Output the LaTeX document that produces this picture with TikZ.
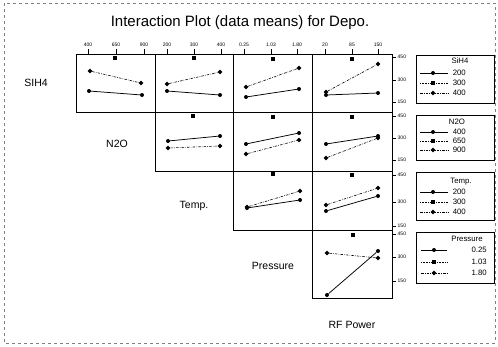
\documentclass[tikz,border=0pt]{standalone}
\usepackage{fontspec}
\setmainfont{Liberation Sans}
\usetikzlibrary{arrows.meta, positioning, shapes}

\begin{document}
\begin{tikzpicture}[
    x=1pt, y=-1pt,
    panel/.style={draw, line width=0.7pt},
    lone/.style={line width=0.75pt},
    ltwo/.style={line width=0.6pt, densely dotted},
    lthree/.style={line width=0.6pt, dash pattern=on 2.5pt off 1.2pt on 0.6pt off 1.2pt},
    ptlow/.style={circle, fill, inner sep=0pt, minimum size=4pt},
    ptmid/.style={rectangle, fill, inner sep=0pt, minimum size=3.5pt},
    pthigh/.style={diamond, fill, inner sep=0pt, minimum size=5pt},
    factor/.style={font=\fontsize{10.5}{12}\selectfont},
    ticklab/.style={font=\fontsize{5}{6}\selectfont, inner sep=0.5pt},
    legtext/.style={font=\fontsize{7.8}{9}\selectfont, inner sep=0pt},
    legbox/.style={draw, line width=0.7pt}
  ]
    \useasboundingbox (0,0) rectangle (498,346);
    \draw[gray, dashed, line width=0.4pt] (4,3) rectangle (495,343);

    \node[font=\fontsize{15}{18}\selectfont] (title) at (240,23) {Interaction Plot (data means) for Depo.};

    % panels
    \draw[panel] (76,54) rectangle (155,112);
    \draw[panel] (155,54) rectangle (233,112);
    \draw[panel] (233,54) rectangle (312,112);
    \draw[panel] (312,54) rectangle (392,112);
    \draw[panel] (155,112) rectangle (233,171);
    \draw[panel] (233,112) rectangle (312,171);
    \draw[panel] (312,112) rectangle (392,171);
    \draw[panel] (233,171) rectangle (312,230);
    \draw[panel] (312,171) rectangle (392,230);
    \draw[panel] (312,230) rectangle (392,298);

    % factor names
    \node[factor] (sih4) at (36,83) {SIH4};
    \node[factor] (n2o) at (117,144) {N2O};
    \node[factor] (temp) at (194,206) {Temp.};
    \node[factor] (press) at (273,266) {Pressure};
    \node[factor] (rfpow) at (352,325) {RF Power};

    % top axis
    \node[ticklab] (tx1) at (88,45) {400};
    \node[ticklab] (tx2) at (116,45) {650};
    \node[ticklab] (tx3) at (144,45) {900};
    \node[ticklab] (tx4) at (167,45) {200};
    \node[ticklab] (tx5) at (194,45) {300};
    \node[ticklab] (tx6) at (221,45) {400};
    \node[ticklab] (tx7) at (244,45) {0.25};
    \node[ticklab] (tx8) at (271,45) {1.03};
    \node[ticklab] (tx9) at (297,45) {1.80};
    \node[ticklab] (tx10) at (325,45) {20};
    \node[ticklab] (tx11) at (352,45) {85};
    \node[ticklab] (tx12) at (378,45) {150};
    \draw (88,49) -- (88,54);
    \draw (116,49) -- (116,54);
    \draw (144,49) -- (144,54);
    \draw (167,49) -- (167,54);
    \draw (194,49) -- (194,54);
    \draw (221,49) -- (221,54);
    \draw (244,49) -- (244,54);
    \draw (271,49) -- (271,54);
    \draw (297,49) -- (297,54);
    \draw (325,49) -- (325,54);
    \draw (352,49) -- (352,54);
    \draw (378,49) -- (378,54);

    % right axis
    \draw (392,57) -- (396,57);
    \draw (392,80) -- (396,80);
    \draw (392,102) -- (396,102);
    \draw (392,116) -- (396,116);
    \draw (392,138) -- (396,138);
    \draw (392,160) -- (396,160);
    \draw (392,175) -- (396,175);
    \draw (392,202) -- (396,202);
    \draw (392,226) -- (396,226);
    \draw (392,234) -- (396,234);
    \draw (392,257) -- (396,257);
    \draw (392,281) -- (396,281);
    \node[ticklab, anchor=west] (ry1) at (397,57) {450};
    \node[ticklab, anchor=west] (ry2) at (397,80) {300};
    \node[ticklab, anchor=west] (ry3) at (397,102) {150};
    \node[ticklab, anchor=west] (ry4) at (397,116) {450};
    \node[ticklab, anchor=west] (ry5) at (397,138) {300};
    \node[ticklab, anchor=west] (ry6) at (397,160) {150};
    \node[ticklab, anchor=west] (ry7) at (397,175) {450};
    \node[ticklab, anchor=west] (ry8) at (397,202) {300};
    \node[ticklab, anchor=west] (ry9) at (397,226) {150};
    \node[ticklab, anchor=west] (ry10) at (397,234) {450};
    \node[ticklab, anchor=west] (ry11) at (397,257) {300};
    \node[ticklab, anchor=west] (ry12) at (397,281) {150};

    % SiH4 row
    \node[ptlow] (a11) at (89,91) {};
    \node[ptlow] (b11) at (142,95) {};
    \node[pthigh] (c11) at (90,71) {};
    \node[pthigh] (d11) at (141,83) {};
    \node[ptmid] (m11) at (115,58) {};
    \draw[lone] (a11) -- (b11);
    \draw[lthree] (c11) -- (d11);
    \node[ptlow] (a12) at (167,91) {};
    \node[ptlow] (b12) at (220,95) {};
    \node[pthigh] (c12) at (167,84) {};
    \node[pthigh] (d12) at (220,72) {};
    \node[ptmid] (m12) at (194,58) {};
    \draw[lone] (a12) -- (b12);
    \draw[lthree] (c12) -- (d12);
    \node[ptlow] (a13) at (246,97) {};
    \node[ptlow] (b13) at (299,89) {};
    \node[pthigh] (c13) at (246,87) {};
    \node[pthigh] (d13) at (299,68) {};
    \node[ptmid] (m13) at (273,59) {};
    \draw[lone] (a13) -- (b13);
    \draw[lthree] (c13) -- (d13);
    \node[ptlow] (a14) at (326,95) {};
    \node[ptlow] (b14) at (378,93) {};
    \node[pthigh] (c14) at (326,92) {};
    \node[pthigh] (d14) at (378,64) {};
    \node[ptmid] (m14) at (352,59) {};
    \draw[lone] (a14) -- (b14);
    \draw[lthree] (c14) -- (d14);

    % N2O row
    \node[ptlow] (a22) at (168,141) {};
    \node[ptlow] (b22) at (220,136) {};
    \node[pthigh] (c22) at (168,148) {};
    \node[pthigh] (d22) at (220,146) {};
    \node[ptmid] (m22) at (193,116) {};
    \draw[lone] (a22) -- (b22);
    \draw[lthree] (c22) -- (d22);
    \node[ptlow] (a23) at (246,144) {};
    \node[ptlow] (b23) at (299,133) {};
    \node[pthigh] (c23) at (246,154) {};
    \node[pthigh] (d23) at (299,140) {};
    \node[ptmid] (m23) at (273,117) {};
    \draw[lone] (a23) -- (b23);
    \draw[lthree] (c23) -- (d23);
    \node[ptlow] (a24) at (326,144) {};
    \node[ptlow] (b24) at (378,136) {};
    \node[pthigh] (c24) at (326,158) {};
    \node[pthigh] (d24) at (378,138) {};
    \node[ptmid] (m24) at (352,117) {};
    \draw[lone] (a24) -- (b24);
    \draw[lthree] (c24) -- (d24);

    % Temp. row
    \node[ptlow] (a33) at (247,208) {};
    \node[ptlow] (b33) at (300,200) {};
    \node[pthigh] (c33) at (247,207) {};
    \node[pthigh] (d33) at (300,191) {};
    \node[ptmid] (m33) at (273,174) {};
    \draw[lone] (a33) -- (b33);
    \draw[lthree] (c33) -- (d33);
    \node[ptlow] (a34) at (326,211) {};
    \node[ptlow] (b34) at (378,196) {};
    \node[pthigh] (c34) at (326,205) {};
    \node[pthigh] (d34) at (378,188) {};
    \node[ptmid] (m34) at (352,175) {};
    \draw[lone] (a34) -- (b34);
    \draw[lthree] (c34) -- (d34);

    % Pressure row
    \node[ptlow] (a44) at (327,295) {};
    \node[ptlow] (b44) at (378,251) {};
    \node[pthigh] (c44) at (327,253) {};
    \node[pthigh] (d44) at (378,258) {};
    \node[ptmid] (m44) at (353,235) {};
    \draw[lone] (a44) -- (b44);
    \draw[lthree] (c44) -- (d44);

    % legends
    \draw[legbox] (416,55) rectangle (494,103);
    \node[legtext] (lg1) at (460,61) {SiH4};
    \draw[lone] (420,73) -- (448,73);
    \node[ptlow] (k1a) at (433,73) {};
    \node[legtext, anchor=east] (l1a) at (466,73) {200};
    \draw[ltwo] (420,83) -- (448,83);
    \node[ptmid] (k1b) at (433,83) {};
    \node[legtext, anchor=east] (l1b) at (466,83) {300};
    \draw[lthree] (420,93) -- (448,93);
    \node[pthigh] (k1c) at (433,93) {};
    \node[legtext, anchor=east] (l1c) at (466,93) {400};

    \draw[legbox] (416,115) rectangle (494,160);
    \node[legtext] (lg2) at (457,122) {N2O};
    \draw[lone] (420,132) -- (448,132);
    \node[ptlow] (k2a) at (433,132) {};
    \node[legtext, anchor=east] (l2a) at (466,132) {400};
    \draw[ltwo] (420,141) -- (448,141);
    \node[ptmid] (k2b) at (433,141) {};
    \node[legtext, anchor=east] (l2b) at (466,141) {650};
    \draw[lthree] (420,150) -- (448,150);
    \node[pthigh] (k2c) at (433,150) {};
    \node[legtext, anchor=east] (l2c) at (466,150) {900};

    \draw[legbox] (416,172) rectangle (494,220);
    \node[legtext] (lg3) at (461,182) {Temp.};
    \draw[lone] (420,192) -- (448,192);
    \node[ptlow] (k3a) at (433,192) {};
    \node[legtext, anchor=east] (l3a) at (466,192) {200};
    \draw[ltwo] (420,202) -- (448,202);
    \node[ptmid] (k3b) at (433,202) {};
    \node[legtext, anchor=east] (l3b) at (466,202) {300};
    \draw[lthree] (420,212) -- (448,212);
    \node[pthigh] (k3c) at (433,212) {};
    \node[legtext, anchor=east] (l3c) at (466,212) {400};

    \draw[legbox] (416,232) rectangle (494,283);
    \node[legtext] (lg4) at (467,239) {Pressure};
    \draw[lone] (421,250) -- (447,250);
    \node[ptlow] (k4a) at (434,250) {};
    \node[legtext, anchor=east] (l4a) at (487,250) {0.25};
    \draw[ltwo] (421,262) -- (447,262);
    \node[ptmid] (k4b) at (434,262) {};
    \node[legtext, anchor=east] (l4b) at (487,262) {1.03};
    \draw[lthree] (421,273) -- (447,273);
    \node[pthigh] (k4c) at (434,273) {};
    \node[legtext, anchor=east] (l4c) at (487,273) {1.80};
  \end{tikzpicture}
\end{document}
